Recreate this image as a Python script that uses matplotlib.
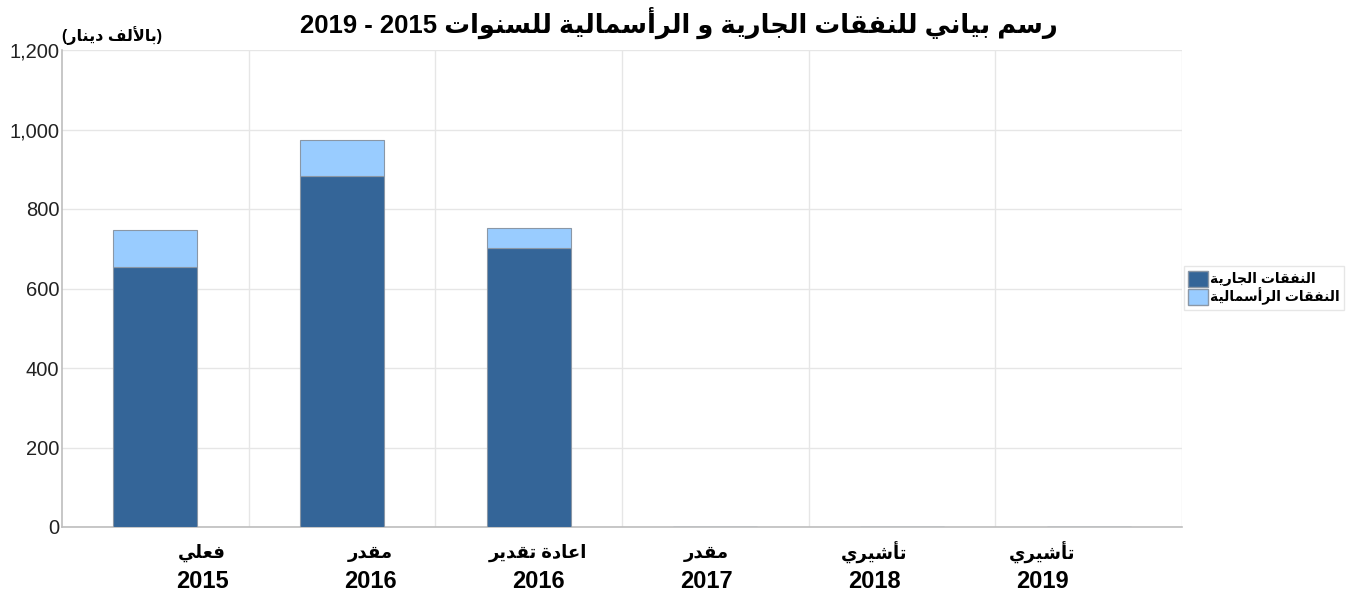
import matplotlib
matplotlib.use("Agg")
import matplotlib.pyplot as plt
from matplotlib.patches import Patch
import numpy as np

# ---- data ----
years = ["2015", "2016", "2016", "2017", "2018", "2019"]
kinds = ["فعلي", "مقدر", "اعادة تقدير", "مقدر", "تأشيري", "تأشيري"]
current_exp = [654, 883, 702, 0, 0, 0]
capital_exp = [93, 91, 50, 0, 0, 0]
series_names = ["النفقات الجارية", "النفقات الرأسمالية"]
title_ar = "رسم بياني للنفقات الجارية و الرأسمالية للسنوات"
title_years = "2019 - 2015"
unit_label = "(بالألف دينار)"
yticks = [0, 200, 400, 600, 800, 1000, 1200]

# ---- minimal Arabic shaping (contextual forms + reversal) ----
FORMS = {
    'ء': ('\uFE80', None, None, None),
    'آ': ('\uFE81', '\uFE82', None, None),
    'أ': ('\uFE83', '\uFE84', None, None),
    'ؤ': ('\uFE85', '\uFE86', None, None),
    'إ': ('\uFE87', '\uFE88', None, None),
    'ئ': ('\uFE89', '\uFE8A', '\uFE8B', '\uFE8C'),
    'ا': ('\uFE8D', '\uFE8E', None, None),
    'ب': ('\uFE8F', '\uFE90', '\uFE91', '\uFE92'),
    'ة': ('\uFE93', '\uFE94', None, None),
    'ت': ('\uFE95', '\uFE96', '\uFE97', '\uFE98'),
    'ث': ('\uFE99', '\uFE9A', '\uFE9B', '\uFE9C'),
    'ج': ('\uFE9D', '\uFE9E', '\uFE9F', '\uFEA0'),
    'ح': ('\uFEA1', '\uFEA2', '\uFEA3', '\uFEA4'),
    'خ': ('\uFEA5', '\uFEA6', '\uFEA7', '\uFEA8'),
    'د': ('\uFEA9', '\uFEAA', None, None),
    'ذ': ('\uFEAB', '\uFEAC', None, None),
    'ر': ('\uFEAD', '\uFEAE', None, None),
    'ز': ('\uFEAF', '\uFEB0', None, None),
    'س': ('\uFEB1', '\uFEB2', '\uFEB3', '\uFEB4'),
    'ش': ('\uFEB5', '\uFEB6', '\uFEB7', '\uFEB8'),
    'ص': ('\uFEB9', '\uFEBA', '\uFEBB', '\uFEBC'),
    'ض': ('\uFEBD', '\uFEBE', '\uFEBF', '\uFEC0'),
    'ط': ('\uFEC1', '\uFEC2', '\uFEC3', '\uFEC4'),
    'ظ': ('\uFEC5', '\uFEC6', '\uFEC7', '\uFEC8'),
    'ع': ('\uFEC9', '\uFECA', '\uFECB', '\uFECC'),
    'غ': ('\uFECD', '\uFECE', '\uFECF', '\uFED0'),
    'ف': ('\uFED1', '\uFED2', '\uFED3', '\uFED4'),
    'ق': ('\uFED5', '\uFED6', '\uFED7', '\uFED8'),
    'ك': ('\uFED9', '\uFEDA', '\uFEDB', '\uFEDC'),
    'ل': ('\uFEDD', '\uFEDE', '\uFEDF', '\uFEE0'),
    'م': ('\uFEE1', '\uFEE2', '\uFEE3', '\uFEE4'),
    'ن': ('\uFEE5', '\uFEE6', '\uFEE7', '\uFEE8'),
    'ه': ('\uFEE9', '\uFEEA', '\uFEEB', '\uFEEC'),
    'و': ('\uFEED', '\uFEEE', None, None),
    'ى': ('\uFEEF', '\uFEF0', None, None),
    'ي': ('\uFEF1', '\uFEF2', '\uFEF3', '\uFEF4'),
}
LAMALEF = {'آ': ('\uFEF5', '\uFEF6'), 'أ': ('\uFEF7', '\uFEF8'),
           'إ': ('\uFEF9', '\uFEFA'), 'ا': ('\uFEFB', '\uFEFC')}
MIRROR = {'(': ')', ')': '('}


def joins_next(c):
    return c in FORMS and FORMS[c][2] is not None


def shape(text):
    out = []
    i = 0
    n = len(text)
    while i < n:
        c = text[i]
        prev = text[i - 1] if i > 0 else ''
        nxt = text[i + 1] if i + 1 < n else ''
        jp = joins_next(prev)
        if c == 'ل' and nxt in LAMALEF:
            out.append(LAMALEF[nxt][1] if jp else LAMALEF[nxt][0])
            i += 2
            continue
        if c in FORMS:
            iso, fin, ini, med = FORMS[c]
            jn = joins_next(c) and nxt in FORMS
            if jp and jn:
                g = med
            elif jp:
                g = fin or iso
            elif jn:
                g = ini
            else:
                g = iso
            out.append(g)
        else:
            out.append(MIRROR.get(c, c))
        i += 1
    return ''.join(reversed(out))


FONT = ['Liberation Sans', 'DejaVu Sans']
plt.rcParams['font.family'] = FONT

dark = '#346598'
light = '#99ccff'
edge = '#8a97a6'

fig = plt.figure(figsize=(13.53, 6.0), dpi=100)
ax = fig.add_axes([62 / 1353, 1 - 527 / 600, 1120 / 1353, 477 / 600])

x = np.arange(len(years))
w = 0.45
ax.bar(x, current_exp, width=w, color=dark, edgecolor=edge, linewidth=0.8, zorder=3)
ax.bar(x, capital_exp, width=w, bottom=current_exp, color=light, edgecolor=edge,
       linewidth=0.8, zorder=3)

ax.set_xlim(-0.5, len(years) - 0.5)
ax.set_ylim(0, 1200)
ax.set_yticks(yticks)
ax.set_yticklabels([f"{v:,}" for v in yticks], fontsize=14.5, color='#222222')
ax.tick_params(axis='y', length=0, pad=2)

# category boundary gridlines
ax.set_xticks(np.arange(0.5, len(years) - 0.5 + 0.01, 1.0))
ax.set_xticklabels([])
ax.tick_params(axis='x', length=0)
ax.grid(True, axis='both', color='#e6e6e6', linewidth=1.0, zorder=0)
ax.set_axisbelow(True)

for s in ['top', 'right']:
    ax.spines[s].set_visible(False)
for s in ['left', 'bottom']:
    ax.spines[s].set_color('#bdbdbd')
    ax.spines[s].set_linewidth(1.2)

# category labels (two lines)
label_x = np.linspace(0.25, len(years) - 1 - 0.25, len(years))
trans = ax.get_xaxis_transform()
for lx, k, yr in zip(label_x, kinds, years):
    ax.text(lx, -0.055, shape(k), transform=trans, ha='center', va='center',
            fontsize=13, fontweight='bold', family=FONT)
    ax.text(lx, -0.115, yr, transform=trans, ha='center', va='center',
            fontsize=17, fontweight='bold', family=FONT)

# title
fig.text(0.502, 0.962, title_years + ' ' + shape(title_ar), ha='center', va='center',
         fontsize=18.5, fontweight='bold', family=FONT)
# unit label
fig.text(62 / 1353, 0.94, shape(unit_label), ha='left', va='center',
         fontsize=11.5, fontweight='bold', family=FONT)

handles = [Patch(facecolor=dark, edgecolor=edge), Patch(facecolor=light, edgecolor=edge)]
leg = fig.legend(handles, [shape(s) for s in series_names], loc='center left',
                 bbox_to_anchor=(1184 / 1353, 1 - 288 / 600), frameon=True,
                 fancybox=False, handlelength=1.45, handleheight=1.45,
                 handletextpad=0.15, borderpad=0.3, labelspacing=0.05,
                 borderaxespad=0.0,
                 prop={'size': 10, 'weight': 'bold', 'family': FONT})
leg.get_frame().set_edgecolor('#e0e0e0')
leg.get_frame().set_linewidth(1.0)

fig.savefig('out.png', dpi=100)
